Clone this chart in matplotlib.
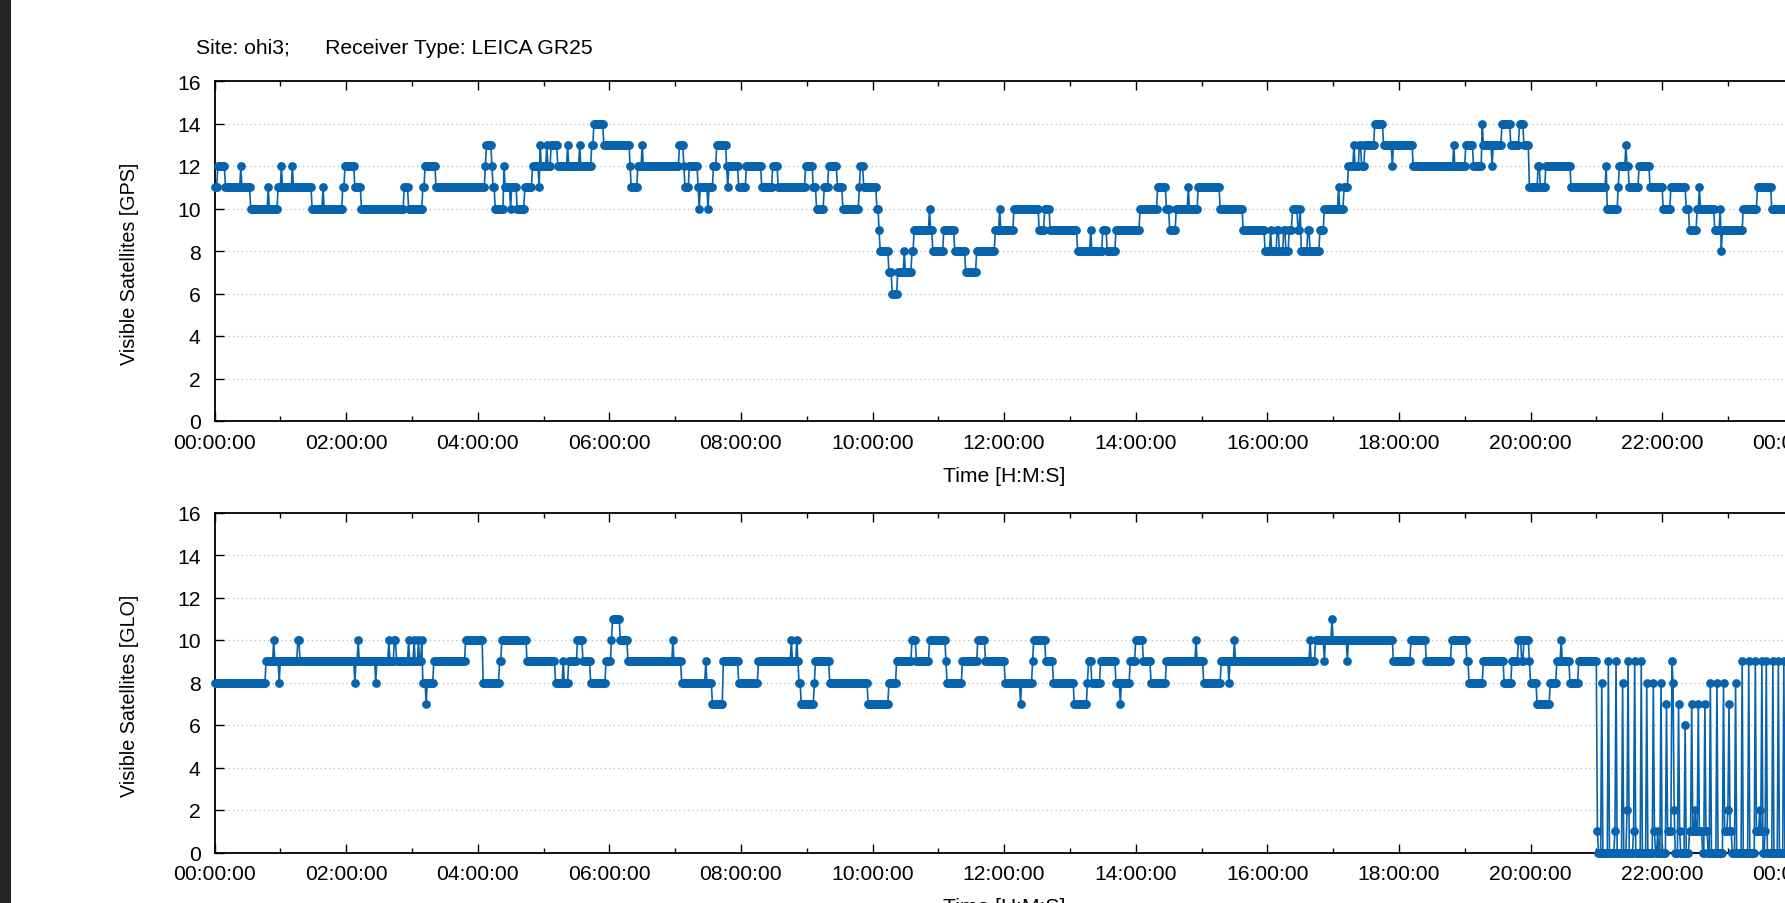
import numpy as np
import matplotlib
matplotlib.use("Agg")
import matplotlib.pyplot as plt
from matplotlib.patches import Rectangle
from matplotlib.ticker import MultipleLocator, FuncFormatter

# Visible satellites: minute of day where a level starts, and that level
gps_start = [0, 3, 10, 24, 25, 33, 49, 50, 58, 61, 62, 71, 72, 89, 99, 100, 117, 119, 128, 134,
             173, 177, 190, 192, 202, 247, 248, 253, 254, 256, 264, 265, 270, 271, 276, 283, 290,
             296, 297, 298, 303, 304, 307, 313, 322, 323, 333, 334, 344, 346, 355, 379, 380, 386,
             390, 391, 424, 428, 429, 433, 441, 442, 443, 450, 451, 455, 458, 467, 468, 469, 478,
             485, 499, 509, 514, 539, 546, 549, 556, 560, 568, 573, 588, 589, 592, 604, 606, 607,
             615, 618, 623, 629, 630, 636, 638, 652, 653, 655, 665, 675, 685, 695, 712, 716, 717,
             729, 752, 757, 762, 787, 799, 800, 810, 814, 822, 844, 860, 868, 871, 877, 888, 889,
             897, 917, 938, 958, 963, 964, 969, 971, 975, 977, 980, 983, 988, 990, 991, 997, 999,
             1008, 1012, 1025, 1026, 1030, 1034, 1039, 1040, 1044, 1046, 1049, 1058, 1066, 1074,
             1075, 1093, 1130, 1131, 1141, 1148, 1156, 1157, 1165, 1166, 1174, 1182, 1190, 1194,
             1199, 1207, 1209, 1214, 1237, 1269, 1270, 1280, 1281, 1287, 1288, 1290, 1299, 1309,
             1321, 1328, 1342, 1345, 1352, 1354, 1355, 1368, 1373, 1374, 1375, 1394, 1407, 1420]
gps_count = [11, 12, 11, 12, 11, 10, 11, 10, 11, 12, 11, 12, 11, 10, 11, 10, 11, 12, 11, 10,
             11, 10, 11, 12, 11, 12, 13, 12, 11, 10, 12, 11, 10, 11, 10, 11, 12,
             11, 13, 12, 13, 12, 13, 12, 13, 12, 13, 12, 13, 14, 13, 12, 11, 12,
             13, 12, 13, 12, 11, 12, 11, 10, 11, 10, 11, 12, 13, 12, 11, 12, 11,
             12, 11, 12, 11, 12, 11, 10, 11, 12, 11, 10, 11, 12, 11, 10, 9, 8,
             7, 6, 7, 8, 7, 8, 9, 10, 9, 8, 9, 8, 7, 8, 9, 10, 9,
             10, 9, 10, 9, 8, 9, 8, 9, 8, 9, 10, 11, 10, 9, 10, 11, 10,
             11, 10, 9, 8, 9, 8, 9, 8, 9, 8, 9, 10, 9, 10, 8, 9, 8,
             9, 10, 11, 10, 11, 12, 13, 12, 13, 12, 13, 14, 13, 12,
             13, 12, 13, 12, 13, 12, 14, 13, 12, 13, 14, 13, 14, 13,
             11, 12, 11, 12, 11, 12, 10, 11, 12, 13, 12, 11, 12, 11,
             10, 11, 10, 9, 10, 11, 10, 9, 10, 8, 9, 10, 11, 10]

glo_start = [0, 47, 54, 55, 59, 60, 76, 78, 128, 129, 131, 132, 147, 148, 159, 160, 164, 166,
             177, 178, 182, 183, 186, 187, 189, 190, 193, 194, 200, 229, 245, 260, 262, 285,
             311, 318, 319, 323, 326, 331, 336, 343, 357, 362, 363, 370, 377, 418, 419, 426,
             448, 449, 454, 464, 478, 496, 526, 527, 531, 532, 533, 535, 547, 548, 561, 596,
             615, 622, 636, 640, 652, 667, 668, 682, 696, 703, 721, 735, 736, 746, 747, 758,
             765, 784, 796, 797, 800, 808, 822, 826, 827, 835, 840, 847, 854, 868, 895, 896,
             902, 918, 925, 926, 930, 931, 999, 1000, 1004, 1012, 1013, 1019, 1020, 1033, 1034,
             1075, 1091, 1105, 1128, 1142, 1144, 1157, 1172, 1176, 1183, 1189, 1192, 1194,
             1199, 1200, 1206, 1218, 1224, 1228, 1229, 1236, 1244,
             1261, 1262, 1265, 1266, 1271, 1272, 1277, 1278, 1279, 1284, 1285, 1288, 1289, 1290,
             1294, 1295, 1296, 1301, 1302, 1306, 1307, 1312, 1313, 1314, 1316, 1317, 1319, 1320,
             1324, 1325, 1329, 1330, 1331, 1332, 1335, 1336, 1337, 1341, 1342, 1345, 1347, 1348,
             1350, 1351, 1353, 1354, 1357, 1359, 1360, 1362, 1364, 1365, 1370, 1371, 1376, 1377,
             1380, 1381, 1382, 1384, 1387, 1388, 1393, 1394, 1399, 1400, 1405, 1406, 1409, 1410,
             1411, 1412, 1414, 1415, 1416, 1421, 1422, 1426, 1427, 1431, 1432, 1436, 1437]
glo_count = [8, 9, 10, 9, 8, 9, 10, 9, 8, 9, 10, 9, 8, 9, 10, 9, 10, 9,
             10, 9, 10, 9, 10, 9, 10, 8, 7, 8, 9, 10, 8, 9, 10, 9,
             8, 9, 8, 9, 9, 10, 9, 8, 9, 10, 11, 10, 9, 10, 9, 8,
             9, 8, 7, 9, 8, 9, 10, 9, 10, 9, 8, 7, 8, 9, 8, 7,
             8, 9, 10, 9, 10, 9, 8, 9, 10, 9, 8, 7, 8, 9, 10, 9,
             8, 7, 8, 9, 8, 9, 8, 7, 8, 9, 10, 9, 8, 9, 10, 9,
             8, 9, 8, 9, 10, 9, 10, 9, 10, 9, 10, 11, 10, 9, 10,
             9, 10, 9, 10, 9, 8, 9, 9, 8, 9, 10, 9, 10,
             9, 8, 7, 8, 9, 10, 9, 8, 9,
             1, 0, 8, 0, 9, 0, 1, 9, 0, 8, 0, 2, 9, 0,
             1, 9, 0, 9, 0, 8, 0, 8, 1, 0, 1, 0, 8, 0,
             7, 1, 9, 8, 2, 0, 7, 1, 0, 6, 0, 1, 7, 1,
             2, 1, 7, 1, 0, 7, 1, 0, 8, 0, 8, 0, 8, 1,
             2, 7, 1, 0, 8, 0, 9, 0, 9, 0, 9, 1, 2, 1,
             9, 0, 1, 9, 0, 9, 0, 9, 0, 9, 0, 9, 0]

day_end = 1445  # last epoch (minutes), just past the right edge of the picture
hour_ticks = list(range(0, 25, 2))

title_text = "Site: ohi3;      Receiver Type: LEICA GR25"
panels = [("Visible Satellites [GPS]", gps_start, gps_count),
          ("Visible Satellites [GLO]", glo_start, glo_count)]

BLUE = "#0863ad"
W, H = 1785, 904
FS = 15.2

plt.rcParams["font.family"] = ["Liberation Sans", "DejaVu Sans"]


def epochs(start, count, end=day_end):
    # expand the runs to one sample per minute
    start = np.asarray(start)
    dur = np.diff(np.append(start, end))
    t = np.arange(start[0], end) / 60.0
    v = np.repeat(np.asarray(count), dur)
    return t, v


def hms(x, pos):
    return f"{int(round(x)) % 24:02d}:00:00"


fig = plt.figure(figsize=(W / 100, H / 100), dpi=100)
fig.patch.set_facecolor("white")
# dark window edge on the left of the screenshot
fig.patches.append(Rectangle((0, 0), 11 / W, 1, transform=fig.transFigure,
                             facecolor="#262626", edgecolor="none", zorder=10))

ax_left = 214.5 / W
ax_width = (1793.7 - 214.5) / W
ax_height = 340 / H
bottoms = [1 - 422 / H, 1 - 853.5 / H]

for (ylabel, start, count), bottom in zip(panels, bottoms):
    ax = fig.add_axes([ax_left, bottom, ax_width, ax_height])
    t, v = epochs(start, count)
    ax.plot(t, v, color=BLUE, lw=1.2, marker="o", ms=6.3, mew=0, clip_on=False, zorder=3)

    ax.set_xlim(0, 24)
    ax.set_ylim(0, 16)
    ax.set_xticks(hour_ticks)
    ax.xaxis.set_minor_locator(MultipleLocator(1))
    ax.xaxis.set_major_formatter(FuncFormatter(hms))
    ax.yaxis.set_major_locator(MultipleLocator(2))

    ax.tick_params(which="both", direction="in", top=True, right=True, colors="black",
                   labelsize=FS, width=1.0)
    ax.tick_params(axis="x", which="major", length=6.5, pad=8.5)
    ax.tick_params(axis="x", which="minor", length=3.3)
    ax.tick_params(axis="y", which="major", length=6.5, pad=10)

    for s in ax.spines.values():
        s.set_linewidth(1.3)
        s.set_color("black")

    ax.set_axisbelow(True)
    ax.grid(axis="y", which="major", linestyle=(0, (1, 2.5)), color="#bdbdbd", lw=0.9)
    ax.grid(axis="x", visible=False)

    ax.set_xlabel("Time [H:M:S]", fontsize=FS, labelpad=10)
    ax.set_ylabel(ylabel, fontsize=14.2)
    ax.yaxis.set_label_coords((139 - 214.5) / (ax_width * W), 0.465)

fig.text(196 / W, 1 - 48 / H, title_text, fontsize=FS, ha="left", va="center")

fig.savefig("out.png", dpi=100)
